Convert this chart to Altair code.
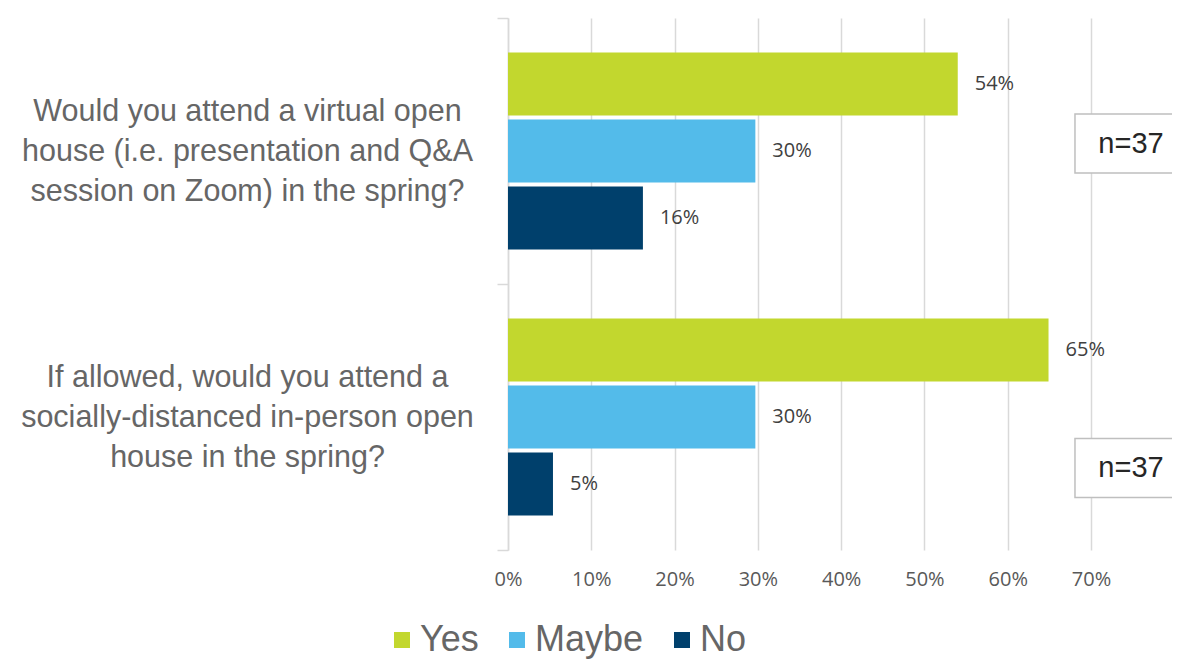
import altair as alt
import pandas as pd

# ---- data ----
questions = [
    "Would you attend a virtual open|house (i.e. presentation and Q&A|session on Zoom) in the spring?",
    "If allowed, would you attend a|socially-distanced in-person open|house in the spring?",
]
responses = ["Yes", "Maybe", "No"]
yes_vals = [0.54, 0.649]
maybe_vals = [0.297, 0.297]
no_vals = [0.162, 0.054]
sample_sizes = [37, 37]
x_ticks = [0, 0.1, 0.2, 0.3, 0.4, 0.5, 0.6, 0.7]

colors = ["#C2D72E", "#53BBEA", "#00406C"]

rows = []
for i, q in enumerate(questions):
    for r, vals in zip(responses, [yes_vals, maybe_vals, no_vals]):
        rows.append({"question": q, "response": r, "value": vals[i]})
df = pd.DataFrame(rows)

# annotation boxes "n=37" (placed in data space, right of the 70% line)
box_x = 0.748
box_band_pos = [0.472, 0.692]

x_enc = alt.X(
    "value:Q",
    scale=alt.Scale(domain=[0, 0.7], nice=False, zero=True),
    axis=alt.Axis(
        format=".0%", values=x_ticks, grid=True, gridColor="#d9d9d9", gridWidth=1.5,
        domain=False, ticks=False, labelPadding=19, labelFont="Open Sans",
        labelFontSize=20, labelColor="#595959", labelFlush=False,
    ),
    title=None,
)
y_enc = alt.Y(
    "question:N",
    sort=questions,
    scale=alt.Scale(domain=questions, paddingInner=0, paddingOuter=0),
    axis=alt.Axis(
        labelExpr="split(datum.label, '|')",
        labelAlign="center", labelBaseline="middle", labelPadding=250,
        labelOffset=-40,
        labelFont="Liberation Sans", labelFontSize=30.5,
        labelLineHeight=40, labelColor="#666666", labelLimit=0,
        tickBand="extent", tickSize=11, tickColor="#d9d9d9", tickWidth=1.5,
        domainColor="#d9d9d9", domainWidth=1.5, grid=False,
    ),
    title=None,
)
yoff_enc = alt.YOffset(
    "response:N",
    sort=responses,
    scale=alt.Scale(domain=responses, paddingInner=0.06, paddingOuter=0.515),
)

base = alt.Chart(df)

bars = base.mark_bar().encode(
    x=x_enc,
    y=y_enc,
    yOffset=yoff_enc,
    color=alt.Color(
        "response:N",
        sort=responses,
        scale=alt.Scale(domain=responses, range=colors),
        legend=alt.Legend(
            orient="none", legendX=-124, legendY=604, direction="horizontal",
            title=None, symbolType="square", symbolSize=256, symbolStrokeWidth=0,
            labelFont="Liberation Sans", labelFontSize=36,
            labelColor="#666666", labelOffset=0, columnPadding=20, padding=0,
        ),
    ),
)

bar_labels = base.mark_text(
    align="left", baseline="middle", dx=17, font="Open Sans", fontSize=20, color="#404040"
).encode(
    x=alt.X("value:Q", title=None),
    y=alt.Y("question:N", sort=questions, title=None),
    yOffset=alt.YOffset("response:N", sort=responses),
    text=alt.Text("value:Q", format=".0%"),
)

box_path = "M-1,-0.527L1,-0.527L1,0.527L-1,0.527Z"
layers = [bars, bar_labels]
for i, q in enumerate(questions):
    bdf = pd.DataFrame({"question": [q], "bx": [box_x], "label": [f"n={sample_sizes[i]}"]})
    b = alt.Chart(bdf)
    box = b.mark_point(
        shape=box_path, size=12544, fill="white", stroke="#bfbfbf", strokeWidth=1.5,
        opacity=1, fillOpacity=1, clip=False,
    ).encode(
        x=alt.X("bx:Q", title=None),
        y=alt.Y("question:N", sort=questions, bandPosition=box_band_pos[i], title=None),
    )
    txt = b.mark_text(
        align="center", baseline="middle", font="Liberation Sans", fontSize=29, color="#262626",
    ).encode(
        x=alt.X("bx:Q", title=None),
        y=alt.Y("question:N", sort=questions, bandPosition=box_band_pos[i], title=None),
        text="label:N",
    )
    layers += [box, txt]

chart = alt.layer(*layers).properties(
    width=583,
    height=532,
    padding={"left": 500, "top": 10, "right": 81, "bottom": 109},
    autosize=alt.AutoSizeParams(type="none"),
).configure_view(stroke=None)

chart.save("out.html", embed_options={"renderer": "svg", "actions": False})
